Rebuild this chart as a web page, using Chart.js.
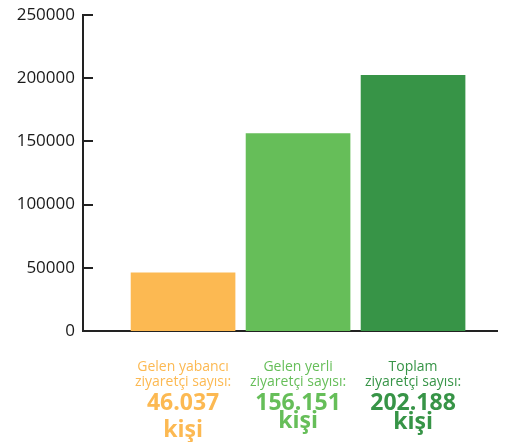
<!DOCTYPE html>
<html>
<head>
<meta charset="utf-8">
<script src="https://cdn.jsdelivr.net/npm/chart.js@4/dist/chart.umd.min.js"></script>
<style>
  html, body { margin: 0; padding: 0; background: #fff; }
  #wrap { width: 509px; height: 442px; }
</style>
</head>
<body>
<div id="wrap"><canvas id="chart"></canvas></div>
<script>
// Data
const categories = ['Gelen yabancı ziyaretçi sayısı', 'Gelen yerli ziyaretçi sayısı', 'Toplam ziyaretçi sayısı'];
const values = [46037, 156151, 202188];
const barColors = ['#fcb952', '#66be59', '#379447'];
const labelLines = [
  ['Gelen yabancı', 'ziyaretçi sayısı:'],
  ['Gelen yerli', 'ziyaretçi sayısı:'],
  ['Toplam', 'ziyaretçi sayısı:']
];
const bigNumbers = ['46.037', '156.151', '202.188'];
const unitText = ['kişi', 'kişi', 'kişi'];
const yTicks = [0, 50000, 100000, 150000, 200000, 250000];

// Draw inward tick marks on the y axis and the text blocks under the bars
const customDraw = {
  id: 'customDraw',
  afterDraw(chart) {
    const ctx = chart.ctx;
    const x = chart.scales.x;
    const y = chart.scales.y;
    const left = chart.chartArea.left;

    ctx.save();
    ctx.strokeStyle = '#222';
    ctx.lineWidth = 2;
    yTicks.forEach(function(t) {
      const py = Math.round(y.getPixelForValue(t));
      ctx.beginPath();
      ctx.moveTo(left, py);
      ctx.lineTo(left + 10, py);
      ctx.stroke();
    });

    ctx.textAlign = 'center';
    ctx.textBaseline = 'middle';
    const unitY = [430, 421, 422];
    values.forEach(function(v, i) {
      const cx = x.getPixelForValue(i + 1);
      ctx.fillStyle = barColors[i];
      ctx.font = '500 14px "Open Sans"';
      ctx.fillText(labelLines[i][0], cx, 367);
      ctx.fillText(labelLines[i][1], cx, 382);
      ctx.font = 'bold 23px "Open Sans"';
      ctx.fillText(bigNumbers[i], cx, 403);
      ctx.fillText(unitText[i], cx, unitY[i]);
    });
    ctx.restore();
  }
};

const ctx = document.getElementById('chart').getContext('2d');
new Chart(ctx, {
  type: 'bar',
  data: {
    datasets: [{
      label: 'Ziyaretçi',
      data: values.map(function(v, i) { return { x: i + 1, y: v }; }),
      backgroundColor: barColors,
      borderWidth: 0,
      barThickness: 104
    }]
  },
  options: {
    responsive: true,
    maintainAspectRatio: false,
    animation: false,
    layout: {
      padding: { top: 15, right: 12, bottom: 103, left: 0 }
    },
    plugins: {
      legend: { display: false },
      tooltip: { enabled: false }
    },
    scales: {
      x: {
        type: 'linear',
        offset: false,
        min: 0.13,
        max: 3.73,
        grid: { display: false },
        ticks: { display: false },
        border: { display: true, color: '#222', width: 2 }
      },
      y: {
        min: 0,
        max: 250000,
        afterFit: function(scale) {
          scale.width = 83;
          scale.paddingTop = 0;
          scale.paddingBottom = 0;
        },
        afterBuildTicks: function(scale) {
          scale.ticks = yTicks.map(function(v) { return { value: v }; });
        },
        grid: { display: false, drawTicks: false },
        border: { display: true, color: '#222', width: 2 },
        ticks: {
          color: '#1a1a1a',
          padding: 8,
          font: { family: '"Open Sans"', size: 17 },
          callback: function(v) { return String(v); }
        }
      }
    }
  },
  plugins: [customDraw]
});
</script>
</body>
</html>
